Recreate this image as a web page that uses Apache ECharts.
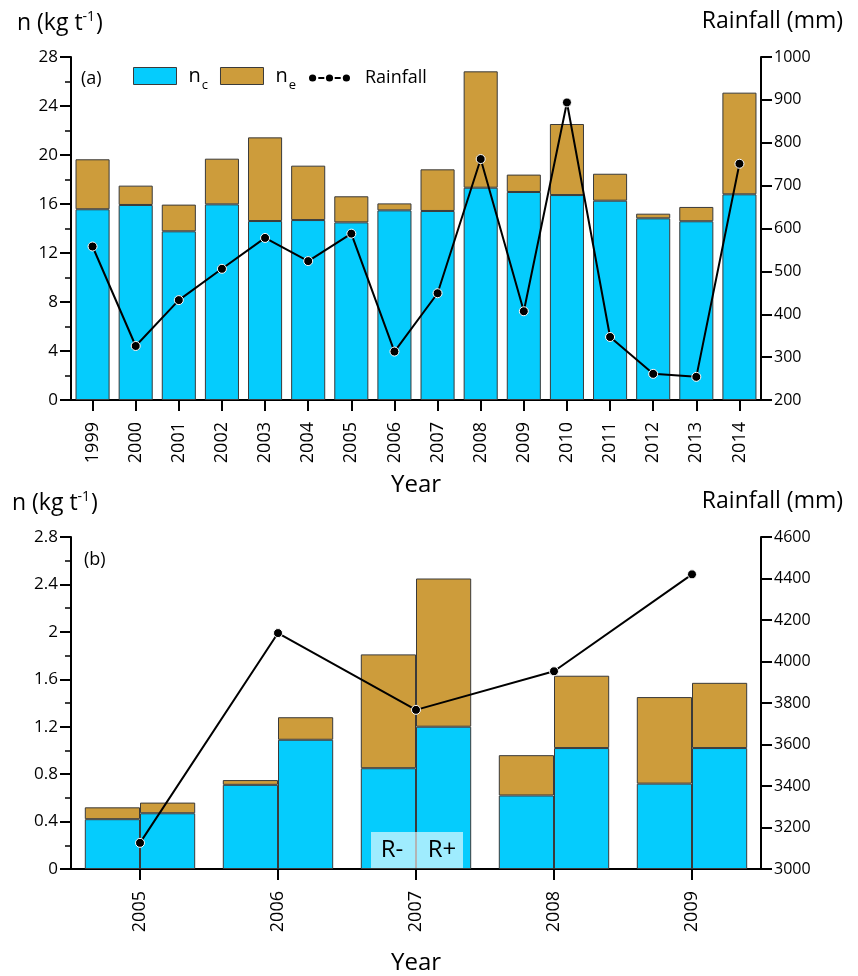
<!DOCTYPE html>
<html>
<head>
<meta charset="utf-8">
<script src="https://cdn.jsdelivr.net/npm/echarts@6/dist/echarts.min.js"></script>
<style>
  html, body { margin: 0; padding: 0; background: #fff; }
  #chart { width: 858px; height: 976px; }
</style>
</head>
<body>
<div id="chart"></div>
<script>
// Panel (a): yearly n components (kg t-1) and rainfall (mm), 1999-2014
const yearsA = ['1999','2000','2001','2002','2003','2004','2005','2006','2007','2008','2009','2010','2011','2012','2013','2014'];
const ncA = [15.57, 15.92, 13.77, 15.97, 14.61, 14.69, 14.50, 15.48, 15.43, 17.33, 16.98, 16.73, 16.27, 14.83, 14.59, 16.79];
const neA = [4.08, 1.58, 2.18, 3.73, 6.83, 4.44, 2.13, 0.57, 3.40, 9.50, 1.42, 5.80, 2.20, 0.38, 1.17, 8.30];
const rainA = [558, 326, 433, 506, 578, 524, 588, 313, 449, 762, 407, 894, 347, 261, 254, 751];

// Panel (b): R- and R+ treatments, 2005-2009
const yearsB = ['2005','2006','2007','2008','2009'];
const ncMinusB = [0.42, 0.71, 0.85, 0.62, 0.72];
const neMinusB = [0.10, 0.04, 0.96, 0.34, 0.73];
const ncPlusB = [0.47, 1.09, 1.20, 1.02, 1.02];
const nePlusB = [0.09, 0.19, 1.25, 0.61, 0.55];
const rainB = [3126, 4137, 3767, 3953, 4420];

// Axis tick values
const leftTicksA = { min: 0, max: 28, interval: 4 };
const rightTicksA = { min: 200, max: 1000, interval: 100 };
const leftTicksB = { min: 0, max: 2.8, interval: 0.4 };
const rightTicksB = { min: 3000, max: 4600, interval: 200 };

const FONT = '"Open Sans", "Noto Sans", sans-serif';
const CYAN = '#05CCFD';
const BROWN = '#CD9C3B';
const EDGE = '#3a3a3a';

const lineAxis = { show: true, lineStyle: { color: '#000', width: 2 } };
const tickAxis = { show: true, length: 11, lineStyle: { color: '#000', width: 2 } };

function catAxis(grid, data, gap) {
  return {
    type: 'category', gridIndex: grid, data: data, boundaryGap: true,
    axisLine: lineAxis,
    axisTick: Object.assign({ alignWithLabel: true }, tickAxis),
    axisLabel: { rotate: 90, margin: 22, fontSize: 18, color: '#000', fontFamily: FONT },
    name: 'Year', nameLocation: 'middle', nameGap: gap, nameMoveOverlap: false,
    nameTextStyle: { fontSize: 24, color: '#000', fontFamily: FONT },
    splitLine: { show: false }
  };
}

function valAxis(grid, ticks, side, minor, fontSize) {
  return {
    type: 'value', gridIndex: grid, position: side,
    min: ticks.min, max: ticks.max, interval: ticks.interval,
    axisLine: Object.assign({ onZero: false }, lineAxis),
    axisTick: tickAxis,
    minorTick: { show: minor, splitNumber: 2, length: 6, lineStyle: { color: '#000', width: 1.5 } },
    splitLine: { show: false },
    minorSplitLine: { show: false },
    axisLabel: {
      fontSize: fontSize, margin: 13, color: '#000', fontFamily: FONT,
      formatter: function (v) { return String(Math.round(v * 100) / 100); }
    }
  };
}

function barSeries(name, xi, yi, stack, data, color) {
  return {
    name: name, type: 'bar', xAxisIndex: xi, yAxisIndex: yi, stack: stack,
    data: data, barCategoryGap: xi === 0 ? '21%' : '20%', barGap: '0%',
    itemStyle: { color: color, borderColor: EDGE, borderWidth: 1 },
    emphasis: { disabled: true }
  };
}

function lineSeries(xi, yi, data) {
  return {
    name: 'Rainfall', type: 'line', xAxisIndex: xi, yAxisIndex: yi, data: data,
    symbol: 'circle', symbolSize: 9, z: 5,
    lineStyle: { color: '#000', width: 2 },
    itemStyle: { color: '#000', borderColor: '#fff', borderWidth: 1 },
    emphasis: { disabled: true }
  };
}

const subRich = {
  s: { fontSize: 13, fontFamily: FONT, color: '#000', padding: [18, 0, 0, 1] }
};
const supRich = {
  p: { fontSize: 14, fontFamily: FONT, color: '#000', padding: [0, 1, 12, 0] },
  m: { fontSize: 23, fontFamily: FONT, color: '#000' }
};

// Legend icon for the rainfall line: three dots joined by dashes
const rainIcon = 'path://M0,4a3.6,3.6 0 1,0 7.2,0a3.6,3.6 0 1,0 -7.2,0Z' +
  'M9.3,3.1h6v1.8h-6Z' +
  'M16.9,4a3.6,3.6 0 1,0 7.2,0a3.6,3.6 0 1,0 -7.2,0Z' +
  'M25.7,3.1h6v1.8h-6Z' +
  'M33.8,4a3.6,3.6 0 1,0 7.2,0a3.6,3.6 0 1,0 -7.2,0Z';

const chart = echarts.init(document.getElementById('chart'), null, { renderer: 'canvas' });

chart.setOption({
  backgroundColor: '#fff',
  animation: false,
  textStyle: { fontFamily: FONT, color: '#000' },
  grid: [
    { left: 71, right: 97, top: 57, height: 343 },
    { left: 71, right: 97, top: 537, height: 344 }
  ],
  legend: [
    {
      data: ['nc', 'ne'], left: 133, top: 66, padding: 0, orient: 'horizontal',
      icon: 'rect', itemWidth: 43, itemHeight: 17, itemGap: 12, selectedMode: false,
      itemStyle: { borderColor: EDGE, borderWidth: 1 },
      formatter: function (n) { return 'n{s|' + n.slice(1) + '}'; },
      textStyle: { fontSize: 20, color: '#000', fontFamily: FONT, padding: [0, 0, 0, 7], rich: subRich }
    },
    {
      data: [{ name: 'Rainfall', icon: rainIcon }], left: 309, top: 69, padding: 0,
      itemWidth: 41, itemHeight: 8, selectedMode: false,
      itemStyle: { color: '#000', borderWidth: 0 },
      lineStyle: { width: 0 },
      textStyle: { fontSize: 18, color: '#000', fontFamily: FONT, padding: [0, 0, 0, 10] }
    }
  ],
  xAxis: [catAxis(0, yearsA, 73), catAxis(1, yearsB, 82)],
  yAxis: [
    valAxis(0, leftTicksA, 'left', true, 17),
    valAxis(0, rightTicksA, 'right', false, 16),
    valAxis(1, leftTicksB, 'left', true, 17),
    valAxis(1, rightTicksB, 'right', false, 16)
  ],
  series: [
    barSeries('nc', 0, 0, 'a', ncA, CYAN),
    barSeries('ne', 0, 0, 'a', neA, BROWN),
    lineSeries(0, 1, rainA),
    barSeries('nc', 1, 2, 'minus', ncMinusB, CYAN),
    barSeries('ne', 1, 2, 'minus', neMinusB, BROWN),
    barSeries('nc', 1, 2, 'plus', ncPlusB, CYAN),
    barSeries('ne', 1, 2, 'plus', nePlusB, BROWN),
    lineSeries(1, 3, rainB)
  ],
  graphic: [
    { type: 'text', left: 17, top: 10, style: { text: '{m|n (kg t}{p|-1}{m|)}', rich: supRich } },
    { type: 'text', right: 15, top: 10, style: { text: 'Rainfall (mm)', fontSize: 23, fontFamily: FONT, fill: '#000' } },
    { type: 'text', left: 81, top: 70, style: { text: '(a)', fontSize: 18, fontFamily: FONT, fill: '#000' } },
    { type: 'text', left: 12, top: 490, style: { text: '{m|n (kg t}{p|-1}{m|)}', rich: supRich } },
    { type: 'text', right: 15, top: 490, style: { text: 'Rainfall (mm)', fontSize: 23, fontFamily: FONT, fill: '#000' } },
    { type: 'text', left: 84, top: 551, style: { text: '(b)', fontSize: 18, fontFamily: FONT, fill: '#000' } },
    // R- / R+ tag over the 2007 bars
    { type: 'rect', z: 100, shape: { x: 371, y: 832, width: 92, height: 36 }, style: { fill: 'rgba(255,255,255,0.62)' } },
    { type: 'text', z: 101, x: 392, y: 850, style: { text: 'R-', fontSize: 24, fontFamily: FONT, fill: '#000', align: 'center', verticalAlign: 'middle' } },
    { type: 'text', z: 101, x: 442, y: 850, style: { text: 'R+', fontSize: 24, fontFamily: FONT, fill: '#000', align: 'center', verticalAlign: 'middle' } }
  ]
});
</script>
</body>
</html>
